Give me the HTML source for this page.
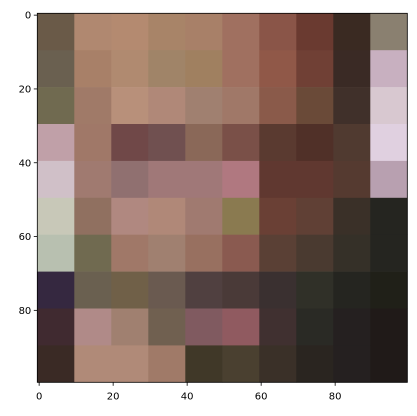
<!DOCTYPE html>
<html><head><meta charset="utf-8"><style>
html,body{margin:0;padding:0;background:#fff;width:417px;height:416px;overflow:hidden}
svg{display:block}
text{font-family:"DejaVu Sans","Liberation Sans",sans-serif;font-size:10px;fill:#000}
</style></head><body>
<svg id="chart" width="417" height="416">
<g id="cells"></g>
<rect x="37.3" y="13.3" width="370" height="369" fill="none" stroke="#000" stroke-width="0.8"/>
<g id="axes"></g>
</svg>
<script>
const xTicks=[0,20,40,60,80];
const yTicks=[0,20,40,60,80];
const row0=["#6a5a48","#b08870","#b48a70","#a88468","#a88068","#a07060","#8a5548","#6a3a30","#3a2a22","#8a8070"];
const row1=["#6a6050","#a88068","#b08a70","#a08468","#a08060","#a07060","#905848","#704035","#3a2a25","#c8b0c0"];
const row2=["#706a50","#a07a68","#b8907a","#b08878","#a08070","#a07868","#8a5a4a","#6a4a38","#40302a","#d8c8d0"];
const row3=["#c0a0a8","#a07868","#704848","#705050","#8a6858","#7a5048","#5a3a30","#503028","#503a30","#e0d0e0"];
const row4=["#d0c0c8","#a07a70","#907070","#a07878","#a07878","#b07880","#603830","#603830","#553a30","#b8a0b0"];
const row5=["#c8c8b8","#907060","#b08880","#b08878","#a07a70","#8a7a50","#6a4035","#604035","#3a3028","#252520"];
const row6=["#b8c0b0","#706a50","#a07868","#a08070","#987060","#8a5a50","#5a4035","#4a3a30","#353028","#252520"];
const row7=["#352840","#6a6050","#706048","#6a5a50","#504040","#4a3a38","#3a3030","#303028","#252520","#202018"];
const row8=["#402a30","#b08a88","#a08070","#706050","#805a60","#905a60","#403030","#2a2a25","#252020","#201a18"];
const row9=["#3a2a25","#b08a78","#b08a78","#a07a68","#403828","#4a4030","#3a3028","#2a2520","#252020","#201a18"];
const rows=[row0,row1,row2,row3,row4,row5,row6,row7,row8,row9];
const NS="http://www.w3.org/2000/svg";
const X0=37.3,Y0=13.3,W=370,H=369,N=100;
function sx(u){return X0+(u+0.5)*W/N;}
function sy(v){return Y0+(v+0.5)*H/N;}
const cells=document.getElementById('cells');
const step=N/rows.length;
rows.forEach((r,i)=>{r.forEach((c,j)=>{
 const re=document.createElementNS(NS,'rect');
 const x1=sx(j*step-0.5),x2=sx((j+1)*step-0.5),y1=sy(i*step-0.5),y2=sy((i+1)*step-0.5);
 re.setAttribute('x',x1);re.setAttribute('y',y1);
 re.setAttribute('width',x2-x1+0.3);re.setAttribute('height',y2-y1+0.3);
 re.setAttribute('fill',c);
 
 
 cells.appendChild(re);});});
const axes=document.getElementById('axes');
xTicks.forEach(t=>{
 const l=document.createElementNS(NS,'line');
 l.setAttribute('x1',sx(t));l.setAttribute('x2',sx(t));l.setAttribute('y1',Y0+H);l.setAttribute('y2',Y0+H+3.5);
 l.setAttribute('stroke','#000');l.setAttribute('stroke-width','0.8');
 
 
 axes.appendChild(l);
 const tx=document.createElementNS(NS,'text');
 tx.setAttribute('x',sx(t));tx.setAttribute('y',Y0+H+17);tx.setAttribute('text-anchor','middle');
 tx.textContent=t;
 
 
 axes.appendChild(tx);});
yTicks.forEach(t=>{
 const l=document.createElementNS(NS,'line');
 l.setAttribute('x1',X0-3.5);l.setAttribute('x2',X0);l.setAttribute('y1',sy(t));l.setAttribute('y2',sy(t));
 l.setAttribute('stroke','#000');l.setAttribute('stroke-width','0.8');
 
 
 axes.appendChild(l);
 const tx=document.createElementNS(NS,'text');
 tx.setAttribute('x',X0-6);tx.setAttribute('y',sy(t)+3.6);tx.setAttribute('text-anchor','end');
 tx.textContent=t;
 
 
 axes.appendChild(tx);});
</script>
</body></html>
